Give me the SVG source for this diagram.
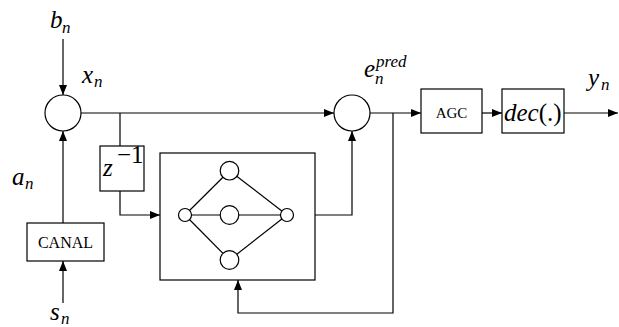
<svg xmlns="http://www.w3.org/2000/svg" width="619" height="327" viewBox="0 0 619 327">
<defs>
<marker id="ah" markerWidth="10" markerHeight="8" refX="10" refY="4" orient="auto" markerUnits="userSpaceOnUse">
<path d="M0,0 L10,4 L0,8 Z" fill="#000"/>
</marker>
<style>
.ln{fill:none;stroke:#000;stroke-width:1.2}
.bx{fill:#fff;stroke:#000;stroke-width:1.2}
.m{font-family:"Liberation Serif","Times New Roman",serif;font-style:italic;font-size:25px;fill:#000}
.ms{font-family:"Liberation Serif","Times New Roman",serif;font-style:italic;font-size:17px;fill:#000}
.r{font-family:"Liberation Serif","Times New Roman",serif;font-style:normal;font-size:25px;fill:#000}
.sc{font-family:"Liberation Serif","Times New Roman",serif;fill:#000}
</style>
</defs>
<g id="connectors">
<line class="ln" x1="63" y1="39" x2="63" y2="95" marker-end="url(#ah)"/>
<line class="ln" x1="63" y1="223" x2="63" y2="131" marker-end="url(#ah)"/>
<line class="ln" x1="63" y1="303" x2="63" y2="261" marker-end="url(#ah)"/>
<line class="ln" x1="81" y1="113" x2="334" y2="113" marker-end="url(#ah)"/>
<polyline class="ln" points="120,113 120,146"/>
<polyline class="ln" points="120,191 120,215 160,215" marker-end="url(#ah)"/>
<polyline class="ln" points="315,215 352,215 352,131" marker-end="url(#ah)"/>
<line class="ln" x1="370" y1="113" x2="421" y2="113" marker-end="url(#ah)"/>
<line class="ln" x1="482" y1="113" x2="502" y2="113" marker-end="url(#ah)"/>
<line class="ln" x1="564" y1="113" x2="618" y2="113" marker-end="url(#ah)"/>
<polyline class="ln" points="393,113 393,313 238,313 238,280" marker-end="url(#ah)"/>
</g>
<g id="sum1"><circle class="bx" cx="63" cy="113" r="18"/></g>
<g id="sum2"><circle class="bx" cx="352" cy="113" r="18"/></g>
<g id="canal"><rect class="bx" x="27" y="223" width="77" height="38"/>
<text class="sc" x="65.5" y="248" font-size="16" text-anchor="middle">CANAL</text></g>
<g id="delay"><rect class="bx" x="100" y="146" width="44" height="45"/>
<text class="m" x="103" y="176">z</text><text class="r" x="117" y="163" font-size="18">−1</text></g>
<g id="nn"><rect class="bx" x="160" y="153" width="155" height="127"/>
<g class="ln">
<line x1="185" y1="215" x2="287" y2="215"/>
<line x1="185" y1="215" x2="229.5" y2="170.7"/>
<line x1="185" y1="215" x2="229.5" y2="260"/>
<line x1="287" y1="215" x2="229.5" y2="170.7"/>
<line x1="287" y1="215" x2="229.5" y2="260"/>
</g>
<circle class="bx" cx="185" cy="215" r="6.5"/>
<circle class="bx" cx="287" cy="215" r="6.5"/>
<circle class="bx" cx="229.5" cy="170.7" r="9.3"/>
<circle class="bx" cx="229.5" cy="215" r="9.3"/>
<circle class="bx" cx="229.5" cy="260" r="9.3"/>
</g>
<g id="agc"><rect class="bx" x="421" y="89" width="61" height="44"/>
<text class="sc" x="451.5" y="118" font-size="15" text-anchor="middle">AGC</text></g>
<g id="dec"><rect class="bx" x="502" y="89" width="62" height="44"/>
<text class="m" x="504" y="121">dec<tspan class="r">(.)</tspan></text></g>
<g id="labels">
<text class="m" x="50" y="28">b</text><text class="ms" x="62" y="33">n</text>
<text class="m" x="82" y="83">x</text><text class="ms" x="94" y="87">n</text>
<text class="m" x="12" y="185">a</text><text class="ms" x="25" y="189">n</text>
<text class="m" x="50" y="320">s</text><text class="ms" x="61" y="324">n</text>
<text class="m" x="364" y="77">e</text><text class="ms" x="375" y="84">n</text><text class="ms" x="376" y="67">pred</text>
<text class="m" x="588" y="86">y</text><text class="ms" x="601" y="90">n</text>
</g>
</svg>
